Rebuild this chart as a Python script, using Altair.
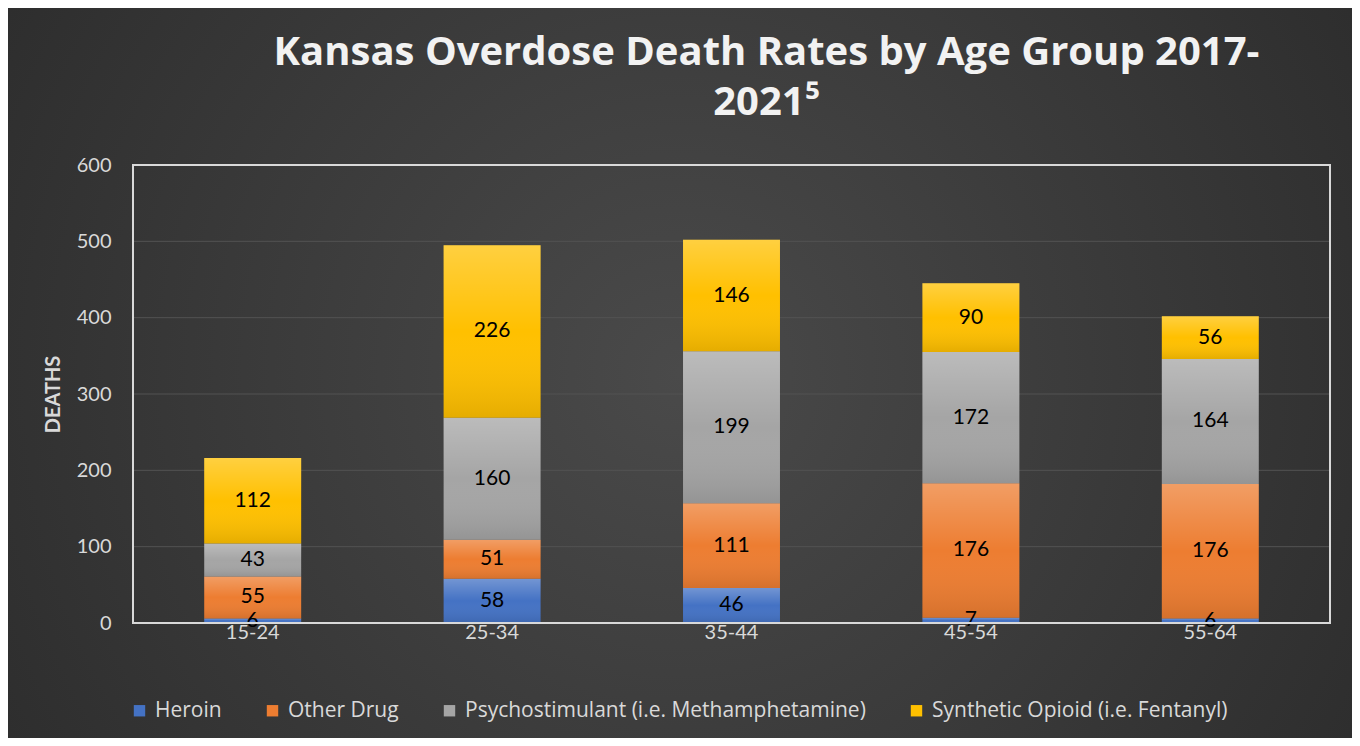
import altair as alt
import pandas as pd

ages = ["15-24", "25-34", "35-44", "45-54", "55-64"]
series = ["Heroin", "Other Drug", "Psychostimulant (i.e. Methamphetamine)", "Synthetic Opioid (i.e. Fentanyl)"]
heroin = [6, 58, 46, 7, 6]
other_drug = [55, 51, 111, 176, 176]
psychostimulant = [43, 160, 199, 172, 164]
synthetic = [112, 226, 146, 90, 56]
colors = ["#4472C4", "#ED7D31", "#A5A5A5", "#FFC000"]
y_ticks = [0, 100, 200, 300, 400, 500, 600]
grid_values = [100, 200, 300, 400, 500]
title_lines = ["Kansas Overdose Death Rates by Age Group 2017-", "2021\u2075"]

rows = []
for i, a in enumerate(ages):
    for k, (s, vals) in enumerate(zip(series, [heroin, other_drug, psychostimulant, synthetic])):
        rows.append({"age": a, "series": s, "value": vals[i], "order": k})
df = pd.DataFrame(rows)

W, H = 1197, 458
PL, PT, PR, PB = 125, 157, 22, 115
TXT = "#D9D9D9"
FONT = "Lato"

one = pd.DataFrame({"d": [0]})

bg = alt.Chart(one).mark_rect(
    color=alt.Gradient(
        gradient="radial", x1=0.5, y1=0.5, r1=0, x2=0.5, y2=0.5, r2=0.75,
        stops=[alt.GradientStop(color="#4a4a4a", offset=0),
               alt.GradientStop(color="#252525", offset=1)])
).encode(x=alt.value(-PL), x2=alt.value(W + PR), y=alt.value(-PT), y2=alt.value(H + PB))

yscale = alt.Scale(domain=[0, 600])
yaxis = alt.Axis(values=y_ticks, title="DEATHS", titleColor=TXT, titleFont=FONT,
                 titleFontSize=20, titleFontWeight="bold", labelColor=TXT,
                 labelFont=FONT, labelFontSize=20, labelPadding=22, ticks=False,
                 domain=False, grid=False, titlePadding=13, zindex=1)

grid = alt.Chart(pd.DataFrame({"v": grid_values})).mark_rule(
    color="#525252", strokeWidth=1
).encode(y=alt.Y("v:Q", scale=yscale, axis=yaxis))

base = alt.Chart(df).transform_stack(
    stack="value", groupby=["age"], as_=["y0", "y1"],
    sort=[alt.SortField("order", order="ascending")]
).transform_calculate(mid="(datum.y0 + datum.y1) / 2")

xenc = alt.X(
    "age:N", sort=ages,
    scale=alt.Scale(paddingInner=0.595, paddingOuter=0.2975),
    axis=alt.Axis(title=None, labelColor=TXT, labelFont=FONT, labelFontSize=20,
                  labelPadding=-1, ticks=False, domain=False, labelAngle=0, zindex=1),
)
yenc = alt.Y("y0:Q", scale=yscale, axis=yaxis)

bars = base.mark_bar().encode(
    x=xenc, y=yenc, y2="y1:Q",
    color=alt.Color(
        "series:N", scale=alt.Scale(domain=series, range=colors),
        legend=alt.Legend(title=None, orient="none", legendX=-4, legendY=535,
                          direction="horizontal", symbolType="square", symbolSize=130,
                          labelFontSize=21, labelColor=TXT, labelFont="Open Sans",
                          columnPadding=40, symbolStrokeWidth=0, labelOffset=5,
                          zindex=1, padding=0, labelLimit=600),
    ),
)

shade = base.mark_bar(
    color=alt.Gradient(
        gradient="linear", x1=0, x2=0, y1=0, y2=1,
        stops=[alt.GradientStop(color="rgba(255,255,255,0.25)", offset=0),
               alt.GradientStop(color="rgba(255,255,255,0)", offset=0.5),
               alt.GradientStop(color="rgba(0,0,0,0.1)", offset=1)])
).encode(x=alt.X("age:N", sort=ages), y="y0:Q", y2="y1:Q")

labels = base.mark_text(color="#000000", fontSize=21, font=FONT).encode(
    x=alt.X("age:N", sort=ages), y="mid:Q", text="value:Q"
)

border = alt.Chart(one).mark_rect(
    fillOpacity=0, stroke="#D9D9D9", strokeWidth=2
).encode(x=alt.value(0), x2=alt.value(W), y=alt.value(0), y2=alt.value(H))

chart = alt.layer(bg, grid, bars, shade, labels, border).properties(
    width=W, height=H,
    padding={"left": PL, "top": PT, "right": PR, "bottom": PB},
    autosize=alt.AutoSizeParams(type="none"),
    background="#262626",
    title=alt.TitleParams(text=title_lines, font="Open Sans", fontSize=40,
                          fontWeight="bold", color="#F2F2F2", anchor="middle",
                          dx=35, offset=0, dy=115, lineHeight=50, zindex=1),
).configure_view(stroke=None)

chart.save("out.html", embed_options={"renderer": "svg", "actions": False})
